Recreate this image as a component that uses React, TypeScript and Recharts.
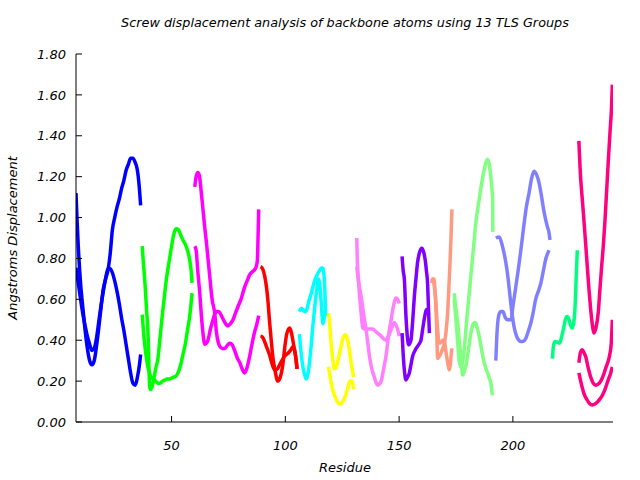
import React from 'react';
import { LineChart, Line, XAxis, YAxis } from 'recharts';

type P = [number, number];

// ---- Tick labels / axis data ----
const xTicks = [50, 100, 150, 200];
const yTicks = [0, 0.2, 0.4, 0.6, 0.8, 1.0, 1.2, 1.4, 1.6, 1.8];
const xDomain: [number, number] = [8, 244];
const yDomain: [number, number] = [0, 1.8];

const titleText = 'Screw displacement analysis of backbone atoms using 13 TLS Groups';
const xLabelText = 'Residue';
const yLabelText = 'Angstroms Displacement';

// ---- Group colours (13 TLS groups) ----
const groupColors = [
  '#0000ff', '#00ff00', '#ff00ff', '#ff0000', '#00ffff', '#ffff00', '#ff80ff',
  '#8000ff', '#ff9980', '#80ff80', '#8080ff', '#00ff80', '#ff0080',
];

// ---- Series values: [residue, displacement] ----
const g01a: P[] = [[8,1.12],[8.5,0.98],[9,0.86],[10,0.68],[11,0.56],[12,0.45],[13,0.36],[14,0.3],[15,0.28],[16,0.3],[17,0.37],[18,0.46],[19,0.56],[20,0.65],[21,0.7],[22,0.74],[23,0.82],[24,0.94],[25,1.0],[26,1.05],[27,1.09],[28,1.14],[29,1.18],[30,1.23],[31,1.26],[32,1.29],[33,1.29],[34,1.27],[35,1.23],[35.8,1.15],[36.4,1.06]];
const g01b: P[] = [[8,0.755],[9,0.68],[10,0.6],[11,0.53],[12,0.47],[13,0.42],[14,0.38],[15,0.35],[16,0.36],[17,0.41],[18,0.49],[19,0.57],[20,0.64],[21,0.7],[22,0.75],[23,0.75],[24,0.73],[25,0.69],[26,0.64],[27,0.58],[28,0.51],[29,0.45],[30,0.38],[31,0.31],[32,0.24],[33,0.19],[34,0.18],[35,0.22],[36,0.29],[36.4,0.33]];

const g02a: P[] = [[37.1,0.86],[37.6,0.78],[38.3,0.68],[39,0.55],[39.7,0.42],[40.1,0.25],[40.5,0.16],[41,0.16],[42,0.2],[43,0.26],[44,0.31],[45,0.42],[46,0.53],[47,0.63],[48,0.72],[49,0.79],[50,0.86],[51,0.92],[52,0.945],[53,0.94],[54,0.915],[55,0.89],[56,0.87],[57,0.84],[58,0.79],[58.6,0.74],[59,0.68]];
const g02b: P[] = [[37.1,0.525],[38,0.4],[39,0.31],[40,0.25],[41,0.22],[42,0.21],[43,0.2],[44,0.19],[45,0.19],[46,0.2],[47,0.205],[48,0.21],[49,0.21],[50,0.215],[51,0.22],[52,0.225],[53,0.245],[54,0.28],[55,0.33],[56,0.38],[57,0.45],[58,0.52],[59,0.63]];

const g03a: P[] = [[60.2,1.15],[60.8,1.2],[61.6,1.22],[62.3,1.2],[63,1.13],[63.8,1.04],[64.5,0.96],[65.3,0.88],[66,0.8],[66.8,0.71],[67.8,0.6],[69,0.53],[69.7,0.44],[70.5,0.39],[71.2,0.37],[72.3,0.36],[73.4,0.36],[74.5,0.375],[75.5,0.385],[76.5,0.38],[77.7,0.35],[79,0.31],[80,0.29],[81,0.26],[82.1,0.24],[83,0.26],[84.3,0.32],[85.5,0.39],[86.5,0.44],[87.5,0.48],[88.3,0.52]];
const g03b: P[] = [[60.2,0.86],[60.8,0.84],[61.5,0.74],[62.4,0.63],[63.1,0.52],[63.8,0.435],[64.6,0.38],[65.3,0.385],[66,0.4],[67,0.45],[68.2,0.5],[69,0.53],[69.7,0.54],[70.8,0.54],[71.9,0.52],[73.3,0.49],[74.7,0.47],[75.8,0.48],[77,0.5],[78,0.53],[79.2,0.565],[80.5,0.6],[82.1,0.66],[83.2,0.69],[84.3,0.72],[85.5,0.735],[86.5,0.745],[87.2,0.76],[87.7,0.79],[88,0.9],[88.3,1.04]];

const g04a: P[] = [[89.1,0.76],[90,0.75],[91,0.71],[92.3,0.6],[93,0.5],[93.8,0.4],[94.5,0.32],[95.5,0.25],[96.7,0.2],[97.8,0.22],[99,0.29],[99.8,0.37],[100.6,0.43],[101.9,0.46],[102.6,0.44],[103.3,0.4],[104.2,0.34],[104.8,0.3],[105.2,0.26]];
const g04b: P[] = [[89.1,0.42],[90,0.415],[91,0.39],[92,0.36],[93,0.33],[94,0.29],[95,0.26],[95.7,0.255],[96.5,0.26],[97.5,0.28],[98.5,0.3],[99.5,0.32],[100.5,0.33],[101.5,0.34],[102.5,0.355],[103.5,0.37],[104.3,0.34],[105.1,0.26]];

const g05a: P[] = [[106.2,0.54],[107,0.555],[107.7,0.55],[108.5,0.54],[109.2,0.545],[110.3,0.59],[111.4,0.63],[112.8,0.69],[114,0.72],[115,0.74],[116,0.755],[116.6,0.75],[117.1,0.7],[117.5,0.6],[117.7,0.52]];
const g05b: P[] = [[106.2,0.43],[107,0.33],[107.7,0.27],[108.5,0.23],[109.2,0.21],[110,0.24],[110.6,0.29],[111.4,0.38],[112.1,0.47],[112.8,0.55],[113.6,0.63],[114.6,0.7],[115.2,0.66],[115.8,0.58],[116.5,0.48],[117.2,0.52],[117.7,0.55]];

const g06a: P[] = [[119,0.533],[119.5,0.48],[120,0.4],[120.8,0.31],[121.6,0.26],[122.5,0.27],[123.3,0.31],[124.3,0.36],[125.3,0.41],[126.3,0.427],[127.2,0.41],[128,0.36],[128.8,0.3],[129.5,0.25],[130,0.22]];
const g06b: P[] = [[119,0.27],[120,0.2],[121,0.15],[122,0.12],[123,0.095],[124.2,0.088],[125.3,0.1],[126.5,0.13],[127.5,0.17],[128.4,0.2],[129.2,0.2],[130,0.16]];

const g07a: P[] = [[131.4,0.9],[131.6,0.8],[132,0.72],[132.6,0.62],[133.3,0.535],[134,0.46],[135,0.455],[136.5,0.455],[138.4,0.455],[140,0.44],[142.1,0.42],[144.2,0.4],[145.3,0.42],[146.4,0.45],[147.9,0.485],[148.8,0.47],[149.4,0.45],[150.1,0.42]];
const g07b: P[] = [[131.4,0.76],[132,0.7],[133.3,0.615],[134.5,0.52],[135.5,0.45],[136.3,0.38],[137,0.32],[138,0.26],[139.1,0.22],[140,0.19],[140.6,0.18],[141.3,0.185],[142.1,0.2],[143.2,0.26],[144.2,0.32],[145,0.39],[145.7,0.45],[146.5,0.5],[147.2,0.55],[148,0.59],[148.6,0.607],[149.4,0.6],[150.1,0.58]];

const g08a: P[] = [[151.3,0.81],[151.8,0.74],[152.3,0.7],[153,0.52],[153.6,0.42],[154.2,0.378],[155.2,0.4],[156,0.5],[156.7,0.615],[157.4,0.7],[158.1,0.78],[159,0.83],[160,0.85],[160.8,0.83],[161.5,0.79],[162,0.74],[162.5,0.68],[162.9,0.56],[163.3,0.435]];
const g08b: P[] = [[151.3,0.435],[151.8,0.33],[152.3,0.255],[153,0.206],[153.7,0.22],[154.5,0.24],[155.2,0.28],[155.9,0.32],[157,0.35],[158.1,0.37],[159,0.385],[159.6,0.4],[160.3,0.45],[161,0.5],[162.1,0.55],[163,0.525]];

const g09a: P[] = [[164.3,0.69],[164.8,0.7],[165.5,0.66],[166.2,0.56],[166.6,0.42],[166.9,0.31],[167.6,0.32],[168.4,0.337],[169.2,0.36],[170,0.39],[170.7,0.45],[171.3,0.53],[171.8,0.64],[172.3,0.76],[172.8,0.9],[173.2,1.04]];
const g09b: P[] = [[164.3,0.68],[164.8,0.7],[165.3,0.7],[165.8,0.64],[166.4,0.54],[167,0.44],[167.6,0.386],[168.5,0.39],[169.2,0.4],[169.8,0.4],[170.4,0.36],[170.9,0.32],[171.5,0.28],[172,0.255],[172.5,0.28],[172.8,0.32],[173.2,0.36]];

const g10a: P[] = [[174.2,0.63],[175,0.55],[175.7,0.484],[176.5,0.39],[177.2,0.32],[177.9,0.23],[178.7,0.25],[179.6,0.29],[180.7,0.37],[181.8,0.45],[182.6,0.48],[183.5,0.487],[184.3,0.46],[185.2,0.42],[186.3,0.35],[187.4,0.29],[188.2,0.26],[188.9,0.24],[189.6,0.215],[190.3,0.19],[191,0.13]];
const g10b: P[] = [[174.2,0.6],[175,0.5],[175.8,0.38],[176.4,0.3],[177.2,0.27],[178,0.3],[178.6,0.353],[179.7,0.5],[180.8,0.63],[182,0.77],[183,0.89],[184,1.0],[185.2,1.09],[186.3,1.17],[187.4,1.235],[188.2,1.27],[188.9,1.285],[189.6,1.26],[190.3,1.2],[190.8,1.14],[191.1,1.09],[191.2,0.93]];

const g11a: P[] = [[192.5,0.9],[194,0.905],[195.4,0.86],[196.9,0.78],[197.7,0.72],[198.4,0.65],[199.4,0.55],[200.5,0.467],[201.3,0.43],[202,0.41],[203.5,0.394],[204.6,0.395],[205.7,0.41],[206.8,0.445],[207.9,0.484],[209,0.54],[210,0.6],[211.2,0.64],[212.3,0.68],[213.4,0.74],[214.4,0.795],[215.9,0.84]];
const g11b: P[] = [[192.5,0.3],[193.1,0.45],[194,0.53],[194.7,0.54],[195.6,0.54],[196.7,0.51],[197.7,0.5],[199.2,0.5],[200,0.565],[201,0.64],[202.3,0.74],[203.5,0.84],[204.7,0.95],[205.9,1.05],[207.1,1.12],[208.2,1.19],[209.3,1.227],[210.4,1.21],[211.5,1.17],[212.5,1.11],[213.5,1.04],[214.4,0.99],[215.3,0.95],[215.9,0.925],[216.3,0.89]];

const g12a: P[] = [[217.4,0.31],[217.8,0.37],[218.5,0.394],[219.5,0.39],[220.5,0.386],[221.5,0.42],[222.5,0.47],[223.3,0.51],[223.9,0.516],[224.7,0.5],[225.4,0.47],[226.1,0.46],[226.8,0.49],[227.4,0.58],[227.8,0.7],[228.3,0.84]];

const g13a: P[] = [[229,1.375],[229.8,1.19],[230.5,1.09],[231.2,0.99],[232,0.87],[232.7,0.76],[233.5,0.64],[234.2,0.55],[235,0.47],[235.6,0.435],[236.5,0.46],[237.5,0.533],[238.2,0.64],[239,0.76],[239.8,0.87],[240.5,0.99],[241.2,1.13],[241.9,1.27],[242.7,1.42],[243.4,1.55],[243.7,1.65]];
const g13b: P[] = [[229,0.29],[229.7,0.34],[230.5,0.353],[231.2,0.34],[232,0.32],[233,0.27],[234.2,0.22],[235.3,0.19],[236.4,0.18],[238,0.19],[239.5,0.22],[241,0.27],[242.4,0.32],[243.2,0.38],[243.7,0.5]];
const g13c: P[] = [[229,0.24],[230,0.19],[231.2,0.14],[232.5,0.11],[233.7,0.09],[234.9,0.083],[236.3,0.09],[237.7,0.105],[239,0.124],[240.5,0.16],[241.9,0.206],[243,0.24],[243.7,0.27]];

const seriesList: { id: string; group: number; pts: P[] }[] = [
  { id: 'g01a', group: 0, pts: g01a }, { id: 'g01b', group: 0, pts: g01b },
  { id: 'g02a', group: 1, pts: g02a }, { id: 'g02b', group: 1, pts: g02b },
  { id: 'g03a', group: 2, pts: g03a }, { id: 'g03b', group: 2, pts: g03b },
  { id: 'g04a', group: 3, pts: g04a }, { id: 'g04b', group: 3, pts: g04b },
  { id: 'g05a', group: 4, pts: g05a }, { id: 'g05b', group: 4, pts: g05b },
  { id: 'g06a', group: 5, pts: g06a }, { id: 'g06b', group: 5, pts: g06b },
  { id: 'g07a', group: 6, pts: g07a }, { id: 'g07b', group: 6, pts: g07b },
  { id: 'g08a', group: 7, pts: g08a }, { id: 'g08b', group: 7, pts: g08b },
  { id: 'g09a', group: 8, pts: g09a }, { id: 'g09b', group: 8, pts: g09b },
  { id: 'g10a', group: 9, pts: g10a }, { id: 'g10b', group: 9, pts: g10b },
  { id: 'g11a', group: 10, pts: g11a }, { id: 'g11b', group: 10, pts: g11b },
  { id: 'g12a', group: 11, pts: g12a },
  { id: 'g13a', group: 12, pts: g13a }, { id: 'g13b', group: 12, pts: g13b }, { id: 'g13c', group: 12, pts: g13c },
];

const FONT = "'DejaVu Sans', 'Liberation Sans', sans-serif";
const tickStyle = { fill: '#000', fontSize: 13, fontStyle: 'italic', fontFamily: FONT };

export default function App() {
  return (
    <div style={{ position: 'absolute', left: 0, top: 0, width: 640, height: 480, background: '#fff' }}>
      <LineChart width={640} height={480} margin={{ top: 54, right: 27, bottom: 0, left: 0 }}>
        <XAxis xAxisId="b" type="number" dataKey="x" domain={xDomain} ticks={xTicks} interval={0}
          orientation="bottom" height={58} tickSize={-6} tickMargin={25}
          stroke="#000" tick={tickStyle} allowDataOverflow />
        <XAxis xAxisId="t" type="number" dataKey="x" domain={xDomain} ticks={xTicks} interval={0}
          orientation="top" height={0} tickSize={-6} stroke="#000" tick={false} allowDataOverflow />
        <YAxis yAxisId="l" type="number" domain={yDomain} ticks={yTicks} interval={0}
          orientation="left" width={76} tickSize={-6} tickMargin={16}
          tickFormatter={(v: number) => v.toFixed(2)} stroke="#000" tick={tickStyle} allowDataOverflow />
        <YAxis yAxisId="r" type="number" domain={yDomain} ticks={yTicks} interval={0}
          orientation="right" width={0} tickSize={-6} stroke="#000" tick={false} allowDataOverflow />
        {seriesList.map((s) => (
          <Line key={s.id} name={s.id} xAxisId="b" yAxisId="l"
            data={s.pts.map(([x, y]) => ({ x, y }))} dataKey="y" type="monotone"
            stroke={groupColors[s.group]} strokeWidth={3.5} dot={false} activeDot={false}
            isAnimationActive={false} />
        ))}
      </LineChart>
      <svg width={640} height={480} style={{ position: 'absolute', left: 0, top: 0, pointerEvents: 'none' }}>
        <text x={345} y={27} textAnchor="middle" fontFamily={FONT} fontStyle="italic" fontSize={12.8} fill="#000">{titleText}</text>
        <text x={345} y={472} textAnchor="middle" fontFamily={FONT} fontStyle="italic" fontSize={13} fill="#000">{xLabelText}</text>
        <text x={0} y={0} transform="translate(17,238) rotate(-90)" textAnchor="middle" fontFamily={FONT} fontStyle="italic" fontSize={13} fill="#000">{yLabelText}</text>
      </svg>
    </div>
  );
}
